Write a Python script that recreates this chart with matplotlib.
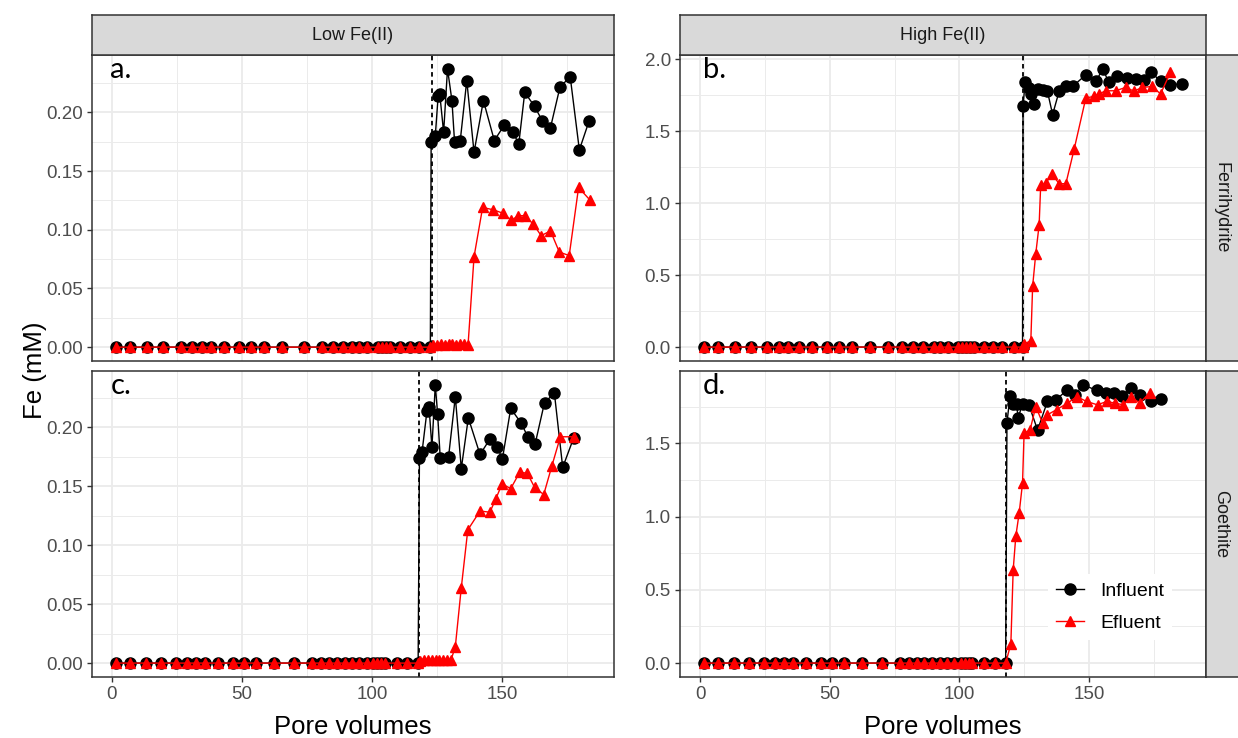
import numpy as np
import matplotlib.pyplot as plt
from matplotlib.ticker import MultipleLocator, FormatStrFormatter

plt.rcParams['font.family'] = ['Liberation Sans', 'DejaVu Sans']

# sampling points before the Fe(II) switch (all zero)
pre_x_a = [1.5, 7, 13.5, 19.5, 26.5, 31, 34.5, 38, 43, 49, 53.5, 58.5, 65.5, 74,
           81, 85, 89, 92.5, 95, 98, 102.5, 104, 105.5, 107, 111, 114.5, 118, 122.5]
pre_x_b = [1.5, 7, 13.5, 19.5, 26, 30.5, 34, 38, 43, 49, 53.5, 58.5, 65.5, 72.5,
           78, 82, 86, 90, 92.5, 95.5, 99.5, 101, 102.5, 104, 105.5, 109.5, 113, 116.5, 121, 124.3]
pre_x_cd = [1.5, 7, 13, 19, 24.5, 29, 32.5, 36, 41, 46.5, 51, 55.5, 62.5, 70, 77,
            80.5, 83.5, 86.5, 89.5, 92.5, 95, 98, 100.5, 102, 103.5, 105, 109.5, 113.5, 117.8]
pre_y_a = [0, 0, 0, 0, 0, 0, 0, 0, 0, 0, 0, 0, 0, 0,
           0, 0, 0, 0, 0, 0, 0, 0, 0, 0, 0, 0, 0, 0]
pre_y_b = [0, 0, 0, 0, 0, 0, 0, 0, 0, 0, 0, 0, 0, 0,
           0, 0, 0, 0, 0, 0, 0, 0, 0, 0, 0, 0, 0, 0, 0, 0]
pre_y_cd = [0, 0, 0, 0, 0, 0, 0, 0, 0, 0, 0, 0, 0, 0, 0,
            0, 0, 0, 0, 0, 0, 0, 0, 0, 0, 0, 0, 0, 0]

# a. Low Fe(II) / Ferrihydrite
a_in_x = [122.8, 124.4, 125.5, 126.1, 127.6, 129.1, 130.8, 131.8, 134, 136.5, 139.3, 142.9,
          147.1, 150.9, 154.3, 156.5, 158.8, 162.6, 165.5, 168.7, 172.4, 176.3, 179.8, 183.6]
a_in_y = [0.175, 0.180, 0.214, 0.216, 0.183, 0.237, 0.210, 0.175, 0.176, 0.227, 0.166, 0.210,
          0.176, 0.189, 0.183, 0.173, 0.217, 0.205, 0.193, 0.187, 0.222, 0.230, 0.168, 0.193]
a_ef_x = [123.5, 125, 126.5, 128, 129.5, 131, 132.5, 134, 135.5, 137, 139.3, 142.6,
          146.7, 150.5, 153.7, 156.2, 158.8, 162, 165.1, 168.7, 172.1, 175.9, 179.5, 184]
a_ef_y = [0.002, 0.002, 0.003, 0.002, 0.003, 0.003, 0.002, 0.003, 0.003, 0.002, 0.077, 0.119,
          0.117, 0.114, 0.108, 0.112, 0.112, 0.105, 0.095, 0.099, 0.081, 0.078, 0.136, 0.125]

# b. High Fe(II) / Ferrihydrite
b_in_x = [124.5, 125.3, 126.7, 127.5, 128.8, 130.1, 132.0, 133.9, 135.9, 138.4, 141, 143.6,
          148.7, 152.5, 155.3, 157.5, 160.8, 164.7, 167.9, 171.1, 174, 177.5, 181.3, 185.8]
b_in_y = [1.675, 1.842, 1.80, 1.76, 1.69, 1.796, 1.79, 1.778, 1.617, 1.778, 1.812, 1.812,
          1.893, 1.847, 1.934, 1.84, 1.888, 1.87, 1.866, 1.86, 1.91, 1.847, 1.824, 1.83]
b_ef_x = [124.8, 127.5, 128.2, 129.4, 130.7, 131.3, 133.3, 135.6, 138.4, 141, 144.2,
          148.7, 151.9, 153.7, 156.4, 160.2, 164.0, 167.2, 170.5, 174.3, 177.5, 181.3]
b_ef_y = [0.02, 0.045, 0.424, 0.649, 0.849, 1.124, 1.14, 1.204, 1.136, 1.136, 1.376,
          1.732, 1.743, 1.76, 1.782, 1.782, 1.805, 1.78, 1.805, 1.812, 1.76, 1.91]

# c. Low Fe(II) / Goethite
c_in_x = [118.3, 119.3, 121.2, 122, 123.1, 124.4, 125.3, 126.3, 129.5, 132.1, 134.4, 137.1,
          141.6, 145.4, 148.3, 150.2, 153.4, 157.3, 160, 162.8, 166.4, 170.2, 173.4, 177.6]
c_in_y = [0.174, 0.179, 0.214, 0.217, 0.183, 0.236, 0.211, 0.174, 0.175, 0.226, 0.165, 0.208,
          0.177, 0.190, 0.183, 0.173, 0.216, 0.204, 0.192, 0.186, 0.221, 0.229, 0.166, 0.191]
c_ef_x = [118.5, 120, 121.5, 123, 124.5, 126, 127.5, 129, 130.5, 132.1, 134.4, 136.9,
          141.6, 145.4, 147.6, 150.1, 153.4, 156.9, 159.8, 162.6, 166.1, 169.2, 172.5, 177.9]
c_ef_y = [0.002, 0.003, 0.003, 0.003, 0.003, 0.003, 0.003, 0.003, 0.003, 0.014, 0.064, 0.113,
          0.129, 0.128, 0.139, 0.152, 0.148, 0.162, 0.161, 0.149, 0.143, 0.167, 0.192, 0.192]

# d. High Fe(II) / Goethite
d_in_x = [118.3, 119.5, 120.8, 122.0, 122.6, 124.3, 126.8, 130.1, 133.9, 137.1, 141.3,
          144.4, 147.8, 152.9, 156.3, 159.5, 162.8, 166, 169.5, 173.7, 177.5]
d_in_y = [1.641, 1.823, 1.77, 1.77, 1.671, 1.77, 1.76, 1.59, 1.785, 1.795, 1.86,
          1.83, 1.898, 1.86, 1.84, 1.84, 1.82, 1.876, 1.83, 1.785, 1.80]
d_ef_x = [119.8, 120.7, 121.7, 123, 124.3, 124.9, 127.2, 129.4, 132, 133.9, 137.5,
          141.6, 145.2, 149, 153.2, 156.7, 159.9, 163.2, 166, 169.5, 173.4]
d_ef_y = [0.13, 0.636, 0.864, 1.023, 1.228, 1.569, 1.59, 1.75, 1.64, 1.694, 1.73,
          1.773, 1.818, 1.785, 1.762, 1.785, 1.774, 1.762, 1.818, 1.774, 1.846]

switch_x = {'a': 123, 'b': 124.5, 'c': 118.3, 'd': 118}

W, H = 1238, 738
fig = plt.figure(figsize=(W / 100, H / 100), dpi=100)


def box(l, t, r, b):
    return [l / W, 1 - b / H, (r - l) / W, (b - t) / H]


ax_a = fig.add_axes(box(92, 55, 614, 361))
ax_c = fig.add_axes(box(92, 371, 614, 677), sharex=ax_a)
ax_b = fig.add_axes(box(680, 55, 1206, 361))
ax_d = fig.add_axes(box(680, 371, 1206, 677), sharex=ax_b)

panels = [
    (ax_a, 'a', pre_x_a, pre_y_a, a_in_x, a_in_y, a_ef_x, a_ef_y, 0.05, '%.2f'),
    (ax_b, 'b', pre_x_b, pre_y_b, b_in_x, b_in_y, b_ef_x, b_ef_y, 0.5, '%.1f'),
    (ax_c, 'c', pre_x_cd, pre_y_cd, c_in_x, c_in_y, c_ef_x, c_ef_y, 0.05, '%.2f'),
    (ax_d, 'd', pre_x_cd, pre_y_cd, d_in_x, d_in_y, d_ef_x, d_ef_y, 0.5, '%.1f'),
]

for ax, tag, px, py, xi, yi, xe, ye, ystep, yfmt in panels:
    ax.axvline(switch_x[tag], color='black', ls=(0, (2.5, 2)), lw=1.3, zorder=1)
    ax.plot(px + xi, py + yi, color='black', lw=1, marker='o', ms=8,
            label='Influent', zorder=2)
    ax.plot(px + xe, py + ye, color='#FF0000', lw=1, marker='^', ms=7.5,
            label='Efluent', zorder=3)

    ax.xaxis.set_major_locator(MultipleLocator(50))
    ax.xaxis.set_minor_locator(MultipleLocator(25))
    ax.yaxis.set_major_locator(MultipleLocator(ystep))
    ax.yaxis.set_minor_locator(MultipleLocator(ystep / 2))
    ax.yaxis.set_major_formatter(FormatStrFormatter(yfmt))
    ax.grid(which='major', color='#EBEBEB', lw=1.3)
    ax.grid(which='minor', color='#EBEBEB', lw=0.7)
    ax.set_axisbelow(True)
    for s in ax.spines.values():
        s.set_color('#333333')
        s.set_linewidth(1.1)
    ax.tick_params(which='major', direction='out', length=3.5, width=1, color='#333333',
                   labelcolor='#4D4D4D', labelsize=13.5, pad=3)
    ax.tick_params(which='minor', length=0)
    ax.text(0.035 if tag in 'ac' else 0.044, 0.925, tag + '.', transform=ax.transAxes,
            ha='left', va='baseline', fontsize=21, family=['Lato', 'DejaVu Sans'])

ax_a.set_ylim(bottom=-0.0118)
for ax in (ax_a, ax_b):
    ax.tick_params(axis='x', which='both', length=0, labelbottom=False)


def strip(rect, label, rot, tx, ty):
    s = fig.add_axes(rect)
    s.set_facecolor('#D9D9D9')
    s.set_xticks([])
    s.set_yticks([])
    for sp in s.spines.values():
        sp.set_color('#333333')
        sp.set_linewidth(1.1)
    fig.text(tx / W, 1 - ty / H, label, rotation=rot, ha='center', va='center',
             fontsize=13, color='#1A1A1A')


strip(box(92, 15, 614, 55), 'Low Fe(II)', 0, 353, 35)
strip(box(680, 15, 1206, 55), 'High Fe(II)', 0, 943, 35)
strip(box(1206, 55, 1270, 361), 'Ferrihydrite', 270, 1221, 208)
strip(box(1206, 371, 1270, 677), 'Goethite', 270, 1221, 524)

fig.text(35 / W, 1 - 370 / H, 'Fe (mM)', rotation=90, ha='center', va='center', fontsize=18.5)
fig.text(353 / W, 1 - 734 / H, 'Pore volumes', ha='center', va='baseline', fontsize=18.5)
fig.text(943 / W, 1 - 734 / H, 'Pore volumes', ha='center', va='baseline', fontsize=18.5)

leg = ax_d.legend(loc='center', bbox_to_anchor=(1110 / W, 1 - 607 / H),
                  bbox_transform=fig.transFigure, frameon=True, fancybox=False,
                  facecolor='white', edgecolor='none', framealpha=1, fontsize=14,
                  handlelength=1.45, handletextpad=0.8, labelspacing=0.75)

fig.savefig('out.png', dpi=100)
